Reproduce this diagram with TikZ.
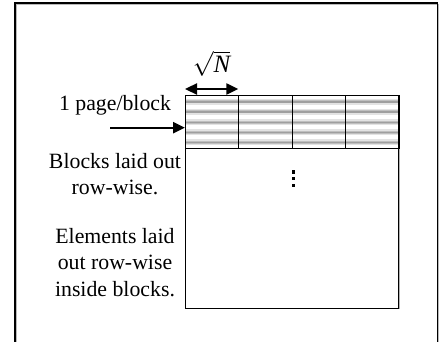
\documentclass[tikz,border=0pt]{standalone}
\usepackage{fontspec}
\setmainfont{Liberation Serif}
\usetikzlibrary{arrows.meta}
\begin{document}
\begin{tikzpicture}[x=1pt,y=-1pt,
  txt/.style={font=\fontsize{21.8}{26.3}\selectfont, align=center, inner sep=0pt},
  gridline/.style={line width=0.9pt, black},
  bigarrow/.style={line width=2.3pt, -{Triangle[length=12pt,width=11pt]}},
  dblarrow/.style={line width=2.3pt, {Triangle[length=12pt,width=11pt]}-{Triangle[length=12pt,width=11pt]}},
  vdot/.style={fill=black, inner sep=0pt, minimum size=3.3pt, draw=none, rectangle}]
\useasboundingbox (0,0) rectangle (444,342);

% outer frame, open at the bottom
\draw[gray!55, line width=0.8pt] (16.2,350) -- (16.2,4.2) -- (438.6,4.2) -- (438.6,350);
\draw[line width=1.3pt] (15,350) -- (15,3) -- (437.4,3) -- (437.4,350);

% striped band of pages
\foreach \yy in {102,112,122.3,132.3,142.3}{
  \draw[gray!22, line width=6pt] (185,\yy) -- (398.3,\yy);
  \draw[gray!50, line width=3pt] (185,\yy) -- (398.3,\yy);
  \draw[gray!75, line width=1.3pt] (185,\yy) -- (398.3,\yy);
}

% first block row and the remaining area
\node[gridline, draw, anchor=north west, minimum width=213.3pt, minimum height=52.7pt, inner sep=0pt] (band) at (185,95.3) {};
\node[draw=gray!60, line width=0.9pt, anchor=north west, minimum width=213.3pt, minimum height=159.5pt, inner sep=0pt] (restshadow) at (185.6,148.8) {};
\node[gridline, draw, fill=white, anchor=north west, minimum width=213.3pt, minimum height=159.5pt, inner sep=0pt] (rest) at (185,148) {};
\draw[gridline] (band.north west) rectangle (band.south east);
\foreach \xx [count=\i] in {238.3,292,345.7}{
  \coordinate (c\i) at (\xx,95.3);
  \draw[gridline] (c\i) -- (\xx,148);
}

% block width marker
\coordinate (w0) at (185,89);
\coordinate (w1) at (238.3,89);
\draw[dblarrow] (w0) -- (w1);
\node[txt, font=\fontsize{25}{30}\selectfont] (sqrtn) at (211.7,63.5) {$\sqrt{\textit{N}}$};

% labels on the left
\node[txt] (page) at (115,105.5) {1 page/block};
\coordinate (pagefrom) at (110,127.7);
\coordinate (pageto) at (185,127.7);
\draw[bigarrow] (pagefrom) -- (pageto);

\node[txt] (blocks) at (115,174) {Blocks laid out\\row-wise.};
\node[txt] (elems) at (115,262.5) {Elements laid\\out row-wise\\inside blocks.};

% vertical ellipsis
\node[vdot] (d1) at (293.3,172) {};
\node[vdot] (d2) at (293.3,178.8) {};
\node[vdot] (d3) at (293.3,185.6) {};
\end{tikzpicture}
\end{document}
